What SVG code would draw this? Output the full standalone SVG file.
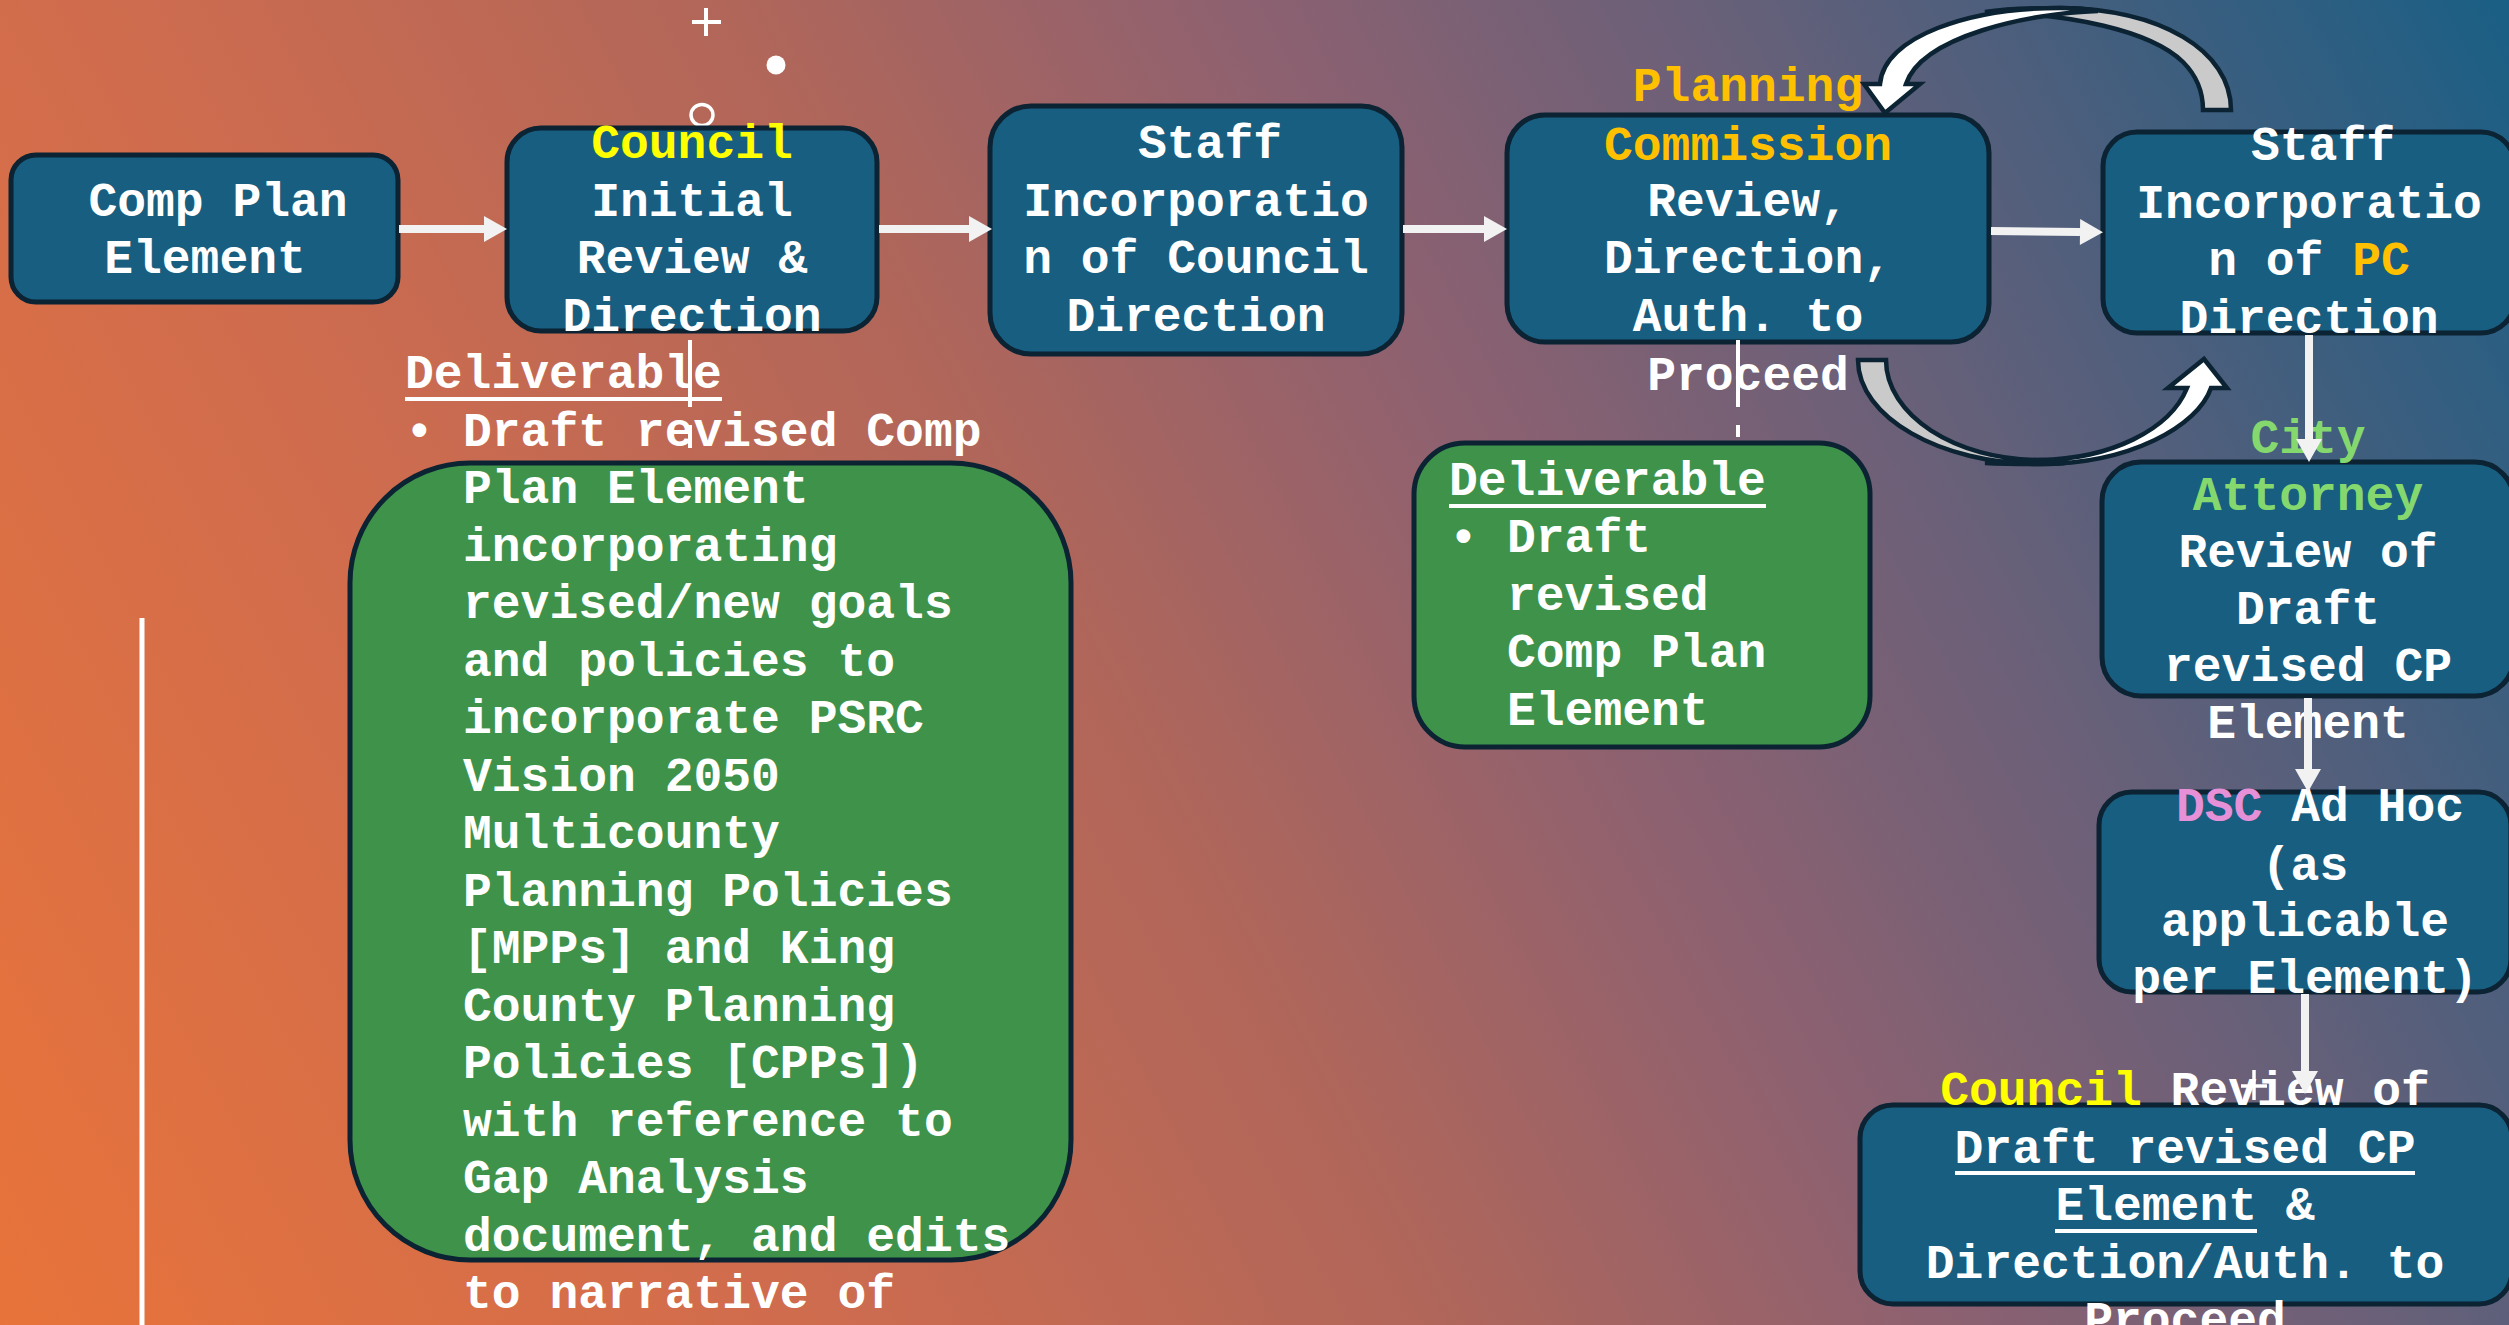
<svg xmlns="http://www.w3.org/2000/svg" width="2509" height="1325" viewBox="0 0 2509 1325">
<defs>
<linearGradient id="bg" gradientUnits="userSpaceOnUse" x1="0" y1="1325" x2="2509" y2="0">
<stop offset="0" stop-color="#E8733A"/>
<stop offset="0.25" stop-color="#CF6C4E"/>
<stop offset="0.45" stop-color="#B0665A"/>
<stop offset="0.6" stop-color="#8E6170"/>
<stop offset="0.75" stop-color="#686079"/>
<stop offset="0.88" stop-color="#3F5E7E"/>
<stop offset="1" stop-color="#1A5F85"/>
</linearGradient>
<marker id="ah" markerUnits="userSpaceOnUse" markerWidth="24" markerHeight="26" refX="0" refY="13" orient="auto" overflow="visible">
<path d="M0,0 L23,13 L0,26 Z" fill="#F2F2F2"/>
</marker>
</defs>
<style>
.box{fill:#175E80;stroke:#0B2333;stroke-width:5}
.gbox{fill:#3E924A;stroke:#0B2333;stroke-width:5}
.t{font-family:"Liberation Mono","Courier New",monospace;font-weight:bold;font-size:48px;fill:#FFFFFF;transform:translateY(3px)}
.m{text-anchor:middle}
.yel{fill:#FFFF00}
.org{fill:#FFC000}
.grn{fill:#84D86E}
.pnk{fill:#E690D8}
.ul{fill:#FFFFFF}
.arr{stroke:#F2F2F2;stroke-width:8;fill:none}
.dash{stroke:#FFFFFF;stroke-width:4;stroke-dasharray:67 18;fill:none}
.cback{fill:#CACACA;stroke:#0B2333;stroke-width:4.5;stroke-linejoin:miter}
.cfront{fill:#FFFFFF;stroke:#0B2333;stroke-width:4.5;stroke-linejoin:miter}
.deco{stroke:#FFFFFF;fill:none}
</style>
<rect x="0" y="0" width="2509" height="1325" fill="url(#bg)"/>

<g id="decor">
<line class="deco" x1="142" y1="618" x2="142" y2="1325" stroke-width="5"/>
<line class="deco" x1="692" y1="22" x2="721" y2="22" stroke-width="4"/>
<line class="deco" x1="706" y1="8" x2="706" y2="36" stroke-width="4"/>
<circle cx="776" cy="65" r="9.5" fill="#FFFFFF"/>
<ellipse class="deco" cx="702" cy="115" rx="11" ry="10.5" stroke-width="3.5"/>
</g>

<g id="node-comp-plan-element">
<rect class="box" x="11" y="155" width="387" height="147" rx="25"/>
<text class="t m" x="218" y="213">Comp Plan</text>
<text class="t m" x="205" y="270">Element</text>
</g>

<g id="node-council-initial-review">
<rect class="box" x="507" y="128" width="370" height="203" rx="34"/>
<text class="t m" x="692" y="155"><tspan class="yel">Council</tspan></text>
<text class="t m" x="692" y="213">Initial</text>
<text class="t m" x="692" y="270">Review &amp;</text>
<text class="t m" x="692" y="328">Direction</text>
</g>

<g id="node-staff-incorporation-council">
<rect class="box" x="990" y="106" width="412" height="248" rx="41"/>
<text class="t m" x="1210" y="155">Staff</text>
<text class="t m" x="1196" y="213">Incorporatio</text>
<text class="t m" x="1196" y="270">n of Council</text>
<text class="t m" x="1196" y="328">Direction</text>
</g>

<g id="node-planning-commission">
<rect class="box" x="1507" y="115" width="482" height="227" rx="38"/>
<text class="t m org" x="1748" y="98">Planning</text>
<text class="t m org" x="1748" y="157">Commission</text>
<text class="t m" x="1748" y="213">Review,</text>
<text class="t m" x="1748" y="270">Direction,</text>
<text class="t m" x="1748" y="328">Auth. to</text>
<text class="t m" x="1748" y="387">Proceed</text>
</g>

<g id="node-staff-incorporation-pc">
<rect class="box" x="2103" y="132" width="412" height="201" rx="34"/>
<text class="t m" x="2323" y="157">Staff</text>
<text class="t m" x="2309" y="215">Incorporatio</text>
<text class="t m" x="2309" y="272">n of <tspan class="org">PC</tspan></text>
<text class="t m" x="2309" y="330">Direction</text>
</g>

<g id="node-city-attorney">
<rect class="box" x="2102" y="462" width="412" height="234" rx="39"/>
<text class="t m grn" x="2308" y="450">City</text>
<text class="t m grn" x="2308" y="507">Attorney</text>
<text class="t m" x="2308" y="564">Review of</text>
<text class="t m" x="2308" y="621">Draft</text>
<text class="t m" x="2308" y="678">revised CP</text>
<text class="t m" x="2308" y="735">Element</text>
</g>

<g id="node-dsc-ad-hoc">
<rect class="box" x="2099" y="792" width="412" height="200" rx="33"/>
<text class="t m" x="2320" y="818"><tspan class="pnk">DSC</tspan> Ad Hoc</text>
<text class="t m" x="2305" y="877">(as</text>
<text class="t m" x="2305" y="933">applicable</text>
<text class="t m" x="2305" y="990">per Element)</text>
</g>

<g id="node-council-review">
<rect class="box" x="1860" y="1105" width="652" height="199" rx="33"/>
<text class="t m" x="2185" y="1102"><tspan class="yel">Council</tspan> Review of</text>
<text class="t m" x="2185" y="1160">Draft revised CP</text>
<rect class="ul" x="1955" y="1171" width="460" height="4"/>
<text class="t m" x="2185" y="1217">Element &amp;</text>
<rect class="ul" x="2055" y="1229" width="202" height="4"/>
<text class="t m" x="2185" y="1275">Direction/Auth. to</text>
<text class="t m" x="2185" y="1332">Proceed</text>
<line class="deco" x1="2254" y1="1070" x2="2254" y2="1100" stroke-width="3.5"/>
<line class="deco" x1="2241" y1="1086" x2="2267" y2="1086" stroke-width="3.5"/>
</g>

<g id="node-deliverable-council">
<rect class="gbox" x="350" y="463" width="721" height="797" rx="120"/>
<text class="t" x="405" y="385">Deliverable</text>
<rect class="ul" x="405" y="397" width="317" height="4"/>
<text class="t" x="405" y="443">•</text>
<text class="t" x="463" y="443">Draft revised Comp</text>
<text class="t" x="463" y="500">Plan Element</text>
<text class="t" x="463" y="558">incorporating</text>
<text class="t" x="463" y="615">revised/new goals</text>
<text class="t" x="463" y="673">and policies to</text>
<text class="t" x="463" y="730">incorporate PSRC</text>
<text class="t" x="463" y="788">Vision 2050</text>
<text class="t" x="463" y="845">Multicounty</text>
<text class="t" x="463" y="903">Planning Policies</text>
<text class="t" x="463" y="960">[MPPs] and King</text>
<text class="t" x="463" y="1018">County Planning</text>
<text class="t" x="463" y="1075">Policies [CPPs])</text>
<text class="t" x="463" y="1133">with reference to</text>
<text class="t" x="463" y="1190">Gap Analysis</text>
<text class="t" x="463" y="1248">document, and edits</text>
<text class="t" x="463" y="1305">to narrative of</text>
</g>

<g id="node-deliverable-pc">
<rect class="gbox" x="1414" y="443" width="456" height="304" rx="51"/>
<text class="t" x="1449" y="492">Deliverable</text>
<rect class="ul" x="1449" y="504" width="317" height="4"/>
<text class="t" x="1449" y="549">•</text>
<text class="t" x="1507" y="549">Draft</text>
<text class="t" x="1507" y="607">revised</text>
<text class="t" x="1507" y="664">Comp Plan</text>
<text class="t" x="1507" y="722">Element</text>
</g>

<g id="connectors">
<line class="arr" x1="399" y1="229" x2="484" y2="229" marker-end="url(#ah)"/>
<line class="arr" x1="879" y1="229" x2="969" y2="229" marker-end="url(#ah)"/>
<line class="arr" x1="1403" y1="229" x2="1484" y2="229" marker-end="url(#ah)"/>
<line class="arr" x1="1991" y1="231" x2="2080" y2="232" marker-end="url(#ah)"/>
<line class="arr" x1="2309" y1="335" x2="2309" y2="439" marker-end="url(#ah)"/>
<line class="arr" x1="2308" y1="698" x2="2308" y2="769" marker-end="url(#ah)"/>
<line class="arr" x1="2305" y1="994" x2="2305" y2="1071" marker-end="url(#ah)"/>
<line class="dash" x1="690" y1="340" x2="690" y2="448"/>
<line class="dash" x1="1738" y1="340" x2="1738" y2="437"/>
<path class="cback" d="M2203 110 L2231 110 C2231 50 2160 9 2060 8 C2030 8 2005 9 1985 12 C2070 14 2150 30 2183 62 C2197 76 2203 93 2203 110 Z"/>
<path class="cfront" d="M1864 84 L1880 84 C1884 36 1970 8 2060 8 C2075 8 2088 9 2098 11 C2030 13 1922 36 1906 84 L1920 84 L1885 113 Z"/>
<path class="cback" d="M1858 360 L1886 360 C1886 415 1955 460 2040 460 C2050 460 2058 461 2065 463 C2057 464 2048 464 2040 464 C1940 464 1858 417 1858 360 Z"/>
<path class="cfront" d="M2168 388 L2187 388 C2170 430 2110 459 2040 460 C2020 461 2002 462 1985 463 C2005 464 2022 464 2040 464 C2130 464 2198 426 2211 388 L2227 388 L2204 359 Z"/>
</g>
</svg>
